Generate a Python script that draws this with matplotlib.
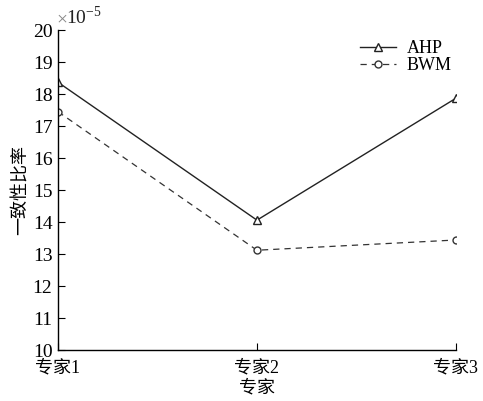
import matplotlib
matplotlib.use("Agg")
from matplotlib import pyplot as plt

# values in units of 1e-5
experts = ["专家1", "专家2", "专家3"]
ahp = [18.37, 14.06, 17.87]
bwm = [17.45, 13.12, 13.44]
yticks = list(range(10, 21))

plt.rcParams["font.family"] = ["Liberation Serif", "Noto Sans CJK SC"]
plt.rcParams["mathtext.fontset"] = "stix"

fig = plt.figure(figsize=(4.83, 4.01), dpi=100)
ax = fig.add_axes([0.12, 0.127, 0.824, 0.798])

x = range(len(experts))
ax.plot(x, ahp, color="#222222", lw=1, marker="^", ms=6,
        mfc="white", mec="#222222", label="AHP")
ax.plot(x, bwm, color="#333333", lw=0.9, ls=(0, (5, 4)), marker="o", ms=5,
        mfc="white", mec="#333333", label="BWM")

ax.set_xlim(0, 2)
ax.set_ylim(10, 20)
ax.set_yticks(yticks)
ax.set_xticks(list(x))
ax.set_xticklabels(experts, fontsize=13)
ax.tick_params(direction="in", length=5, width=0.8)
ax.tick_params(axis="y", labelsize=14, pad=4)
ax.tick_params(axis="x", pad=7)
for s in ["top", "right"]:
    ax.spines[s].set_visible(False)
for s in ["left", "bottom"]:
    ax.spines[s].set_linewidth(1)

# offset label above the y axis
ax.text(-0.003, 1.018, "×", transform=ax.transAxes, fontsize=14,
        color="#888888", ha="left", va="baseline")
ax.text(0.021, 1.018, "10$^{\\mathregular{-5}}$", transform=ax.transAxes,
        fontsize=14, color="#222222", ha="left", va="baseline")

ax.set_xlabel("专家", fontsize=13, labelpad=2)
ax.set_ylabel("一致性比率", fontsize=13, labelpad=2)
ax.legend(loc="upper right", bbox_to_anchor=(1.03, 1.02), frameon=False,
          fontsize=13, handlelength=2.0, handletextpad=0.6, labelspacing=0.0)

fig.savefig("out.png", dpi=100)
